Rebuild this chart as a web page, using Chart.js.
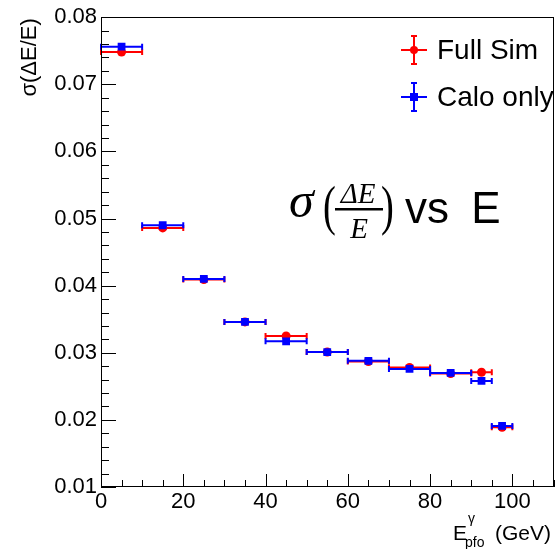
<!DOCTYPE html>
<html>
<head>
<meta charset="utf-8">
<script src="https://cdn.jsdelivr.net/npm/chart.js@4/dist/chart.umd.min.js"></script>
<style>
    html, body { margin: 0; padding: 0; background: #fff; }
    #chart { display: block; }
</style>
</head>
<body>
<canvas id="chart" width="559" height="549"></canvas>
<script>
// Photon energy resolution per PFO energy bin
const energyCentres   = [5, 15, 25, 35, 45, 55, 65, 75, 85, 92.5, 97.5];
const binHalfWidths   = [5, 5, 5, 5, 5, 5, 5, 5, 5, 2.5, 2.5];
const fullSimSigma    = [0.0748, 0.0486, 0.0409, 0.0346, 0.0325, 0.0301, 0.0287, 0.0278, 0.0269, 0.0271, 0.0189];
const caloOnlySigma   = [0.0756, 0.0490, 0.0410, 0.0346, 0.0317, 0.0301, 0.0288, 0.0276, 0.0270, 0.0258, 0.0191];
const fullSimErrors   = [0.0003, 0.0002, 0.0002, 0.0002, 0.0002, 0.0002, 0.0002, 0.0002, 0.0002, 0.0002, 0.0002];
const caloOnlyErrors  = [0.0003, 0.0002, 0.0002, 0.0002, 0.0002, 0.0002, 0.0002, 0.0002, 0.0002, 0.0002, 0.0002];

const xTickValues = [0, 20, 40, 60, 80, 100];
const yTickValues = [0.01, 0.02, 0.03, 0.04, 0.05, 0.06, 0.07, 0.08];
const xMinorStep = 5;
const yMinorStep = 0.002;

const FONT = '"Liberation Sans", Arial, Helvetica, sans-serif';
const SERIF = '"Liberation Serif", "DejaVu Serif", serif';

function buildPoints(values, errors) {
    return energyCentres.map((x, i) => ({
        x: x,
        y: values[i],
        xErr: binHalfWidths[i],
        yErr: errors[i]
    }));
}

// horizontal (bin width) and vertical error bars, drawn under each dataset's markers
const errorBars = {
    id: 'errorBars',
    beforeDatasetDraw(chart, args) {
        const ds = chart.data.datasets[args.index];
        const xs = chart.scales.x, ys = chart.scales.y;
        const ctx = chart.ctx;
        const cap = 3;
        ctx.save();
        ctx.strokeStyle = ds.backgroundColor;
        ctx.lineWidth = 2;
        ds.data.forEach(p => {
            const x0 = xs.getPixelForValue(p.x - p.xErr);
            const x1 = xs.getPixelForValue(p.x + p.xErr);
            const xc = xs.getPixelForValue(p.x);
            const yc = ys.getPixelForValue(p.y);
            const y0 = ys.getPixelForValue(p.y - p.yErr);
            const y1 = ys.getPixelForValue(p.y + p.yErr);
            ctx.beginPath();
            ctx.moveTo(x0, yc); ctx.lineTo(x1, yc);
            ctx.moveTo(x0, yc - cap); ctx.lineTo(x0, yc + cap);
            ctx.moveTo(x1, yc - cap); ctx.lineTo(x1, yc + cap);
            ctx.moveTo(xc, y0); ctx.lineTo(xc, y1);
            ctx.stroke();
        });
        ctx.restore();
    }
};

// tall, thin parenthesis
function drawParen(ctx, ch, x, y) {
    ctx.save();
    ctx.translate(x, y);
    ctx.scale(0.7, 1);
    ctx.font = '55px ' + SERIF;
    ctx.fillText(ch, 0, 0);
    ctx.restore();
}

// frame box with inward major/minor ticks, axis titles, legend and the annotation
const frameAndText = {
    id: 'frameAndText',
    afterDraw(chart) {
        const ctx = chart.ctx;
        const a = chart.chartArea;
        const xs = chart.scales.x, ys = chart.scales.y;
        ctx.save();

        ctx.strokeStyle = '#000';
        ctx.lineWidth = 1;
        ctx.strokeRect(Math.round(a.left) + 0.5, Math.round(a.top) + 0.5,
            Math.round(a.right - a.left) - 1, Math.round(a.bottom - a.top) - 1);

        ctx.beginPath();
        for (let v = xs.min; v <= xs.max + 1e-9; v += xMinorStep) {
            const px = Math.round(xs.getPixelForValue(v)) + 0.5;
            const major = xTickValues.some(t => Math.abs(t - v) < 1e-9);
            const len = major ? 13 : 7;
            ctx.moveTo(px, a.bottom);
            ctx.lineTo(px, a.bottom - len);
        }
        for (let v = ys.min; v <= ys.max + 1e-9; v += yMinorStep) {
            const py = Math.round(ys.getPixelForValue(v)) + 0.5;
            const major = yTickValues.some(t => Math.abs(t - v) < 1e-9);
            const len = major ? 15 : 8;
            ctx.moveTo(a.left, py);
            ctx.lineTo(a.left + len, py);
        }
        ctx.stroke();

        ctx.fillStyle = '#000';

        // y axis title
        ctx.save();
        ctx.translate(36, a.top + 1);
        ctx.rotate(-Math.PI / 2);
        ctx.font = '22px ' + FONT;
        ctx.textAlign = 'right';
        ctx.textBaseline = 'alphabetic';
        ctx.fillText('σ(ΔE/E)', 0, 0);
        ctx.restore();

        // x axis title: E with gamma superscript and pfo subscript
        ctx.textAlign = 'left';
        ctx.textBaseline = 'alphabetic';
        ctx.font = '21px ' + FONT;
        ctx.fillText('E', 453, 540);
        ctx.font = '14px ' + FONT;
        ctx.fillText('γ', 468, 523);
        ctx.fillText('pfo', 465, 547);
        ctx.font = '21px ' + FONT;
        ctx.fillText('(GeV)', 495, 540);

        // legend
        const legendItems = [
            { label: 'Full Sim', color: '#ff0000', style: 'circle', y: 50 },
            { label: 'Calo only', color: '#0000ff', style: 'rect', y: 97 }
        ];
        legendItems.forEach(item => {
            const cx = 414;
            ctx.strokeStyle = item.color;
            ctx.fillStyle = item.color;
            ctx.lineWidth = 2;
            ctx.beginPath();
            ctx.moveTo(401, item.y); ctx.lineTo(427, item.y);
            ctx.moveTo(cx, item.y - 14); ctx.lineTo(cx, item.y + 14);
            ctx.moveTo(cx - 3, item.y - 14); ctx.lineTo(cx + 3, item.y - 14);
            ctx.moveTo(cx - 3, item.y + 14); ctx.lineTo(cx + 3, item.y + 14);
            ctx.stroke();
            ctx.beginPath();
            if (item.style === 'circle') {
                ctx.arc(cx, item.y, 4, 0, Math.PI * 2);
            } else {
                ctx.rect(cx - 4, item.y - 4, 8, 8);
            }
            ctx.fill();
            ctx.fillStyle = '#000';
            ctx.font = '28px ' + FONT;
            ctx.fillText(item.label, 437, item.y + 9);
        });

        // annotation: sigma(dE/E) vs E
        ctx.fillStyle = '#000';
        ctx.font = 'italic 50px ' + SERIF;
        ctx.fillText('σ', 289, 217);
        drawParen(ctx, '(', 323, 224);
        drawParen(ctx, ')', 381, 224);
        ctx.font = 'italic 29px ' + SERIF;
        ctx.textAlign = 'center';
        ctx.fillText('ΔE', 358, 203);
        ctx.fillText('E', 359, 238);
        ctx.fillRect(335, 208, 48, 2.5);
        ctx.textAlign = 'left';
        ctx.font = '44px ' + FONT;
        ctx.wordSpacing = '10px';
        ctx.fillText('vs E', 405, 223);
        ctx.restore();
    }
};

new Chart(document.getElementById('chart'), {
    type: 'scatter',
    data: {
        datasets: [
            {
                label: 'Calo only',
                data: buildPoints(caloOnlySigma, caloOnlyErrors),
                backgroundColor: '#0000ff',
                borderWidth: 0,
                pointStyle: 'rect',
                pointRadius: 5.5,
                order: 0
            },
            {
                label: 'Full Sim',
                data: buildPoints(fullSimSigma, fullSimErrors),
                backgroundColor: '#ff0000',
                borderWidth: 0,
                pointStyle: 'circle',
                pointRadius: 4.5,
                order: 1
            }
        ]
    },
    options: {
        responsive: false,
        animation: false,
        events: [],
        layout: { padding: { top: 14, right: 2, left: 0, bottom: 0 } },
        plugins: {
            legend: { display: false },
            tooltip: { enabled: false }
        },
        scales: {
            x: {
                type: 'linear',
                min: 0,
                max: 110,
                afterFit(scale) { scale.height = 62; },
                afterBuildTicks(scale) { scale.ticks = xTickValues.map(v => ({ value: v })); },
                grid: { display: false, drawTicks: false },
                border: { display: false },
                ticks: {
                    color: '#000',
                    font: { family: FONT, size: 22 },
                    padding: 2,
                    maxRotation: 0,
                    autoSkip: false,
                    callback: v => String(v)
                }
            },
            y: {
                type: 'linear',
                min: 0.01,
                max: 0.08,
                afterFit(scale) { scale.width = 101; },
                afterBuildTicks(scale) { scale.ticks = yTickValues.map(v => ({ value: v })); },
                grid: { display: false, drawTicks: false },
                border: { display: false },
                ticks: {
                    color: '#000',
                    font: { family: FONT, size: 22 },
                    padding: 4,
                    autoSkip: false,
                    callback: v => v.toFixed(2)
                }
            }
        }
    },
    plugins: [errorBars, frameAndText]
});
</script>
</body>
</html>
